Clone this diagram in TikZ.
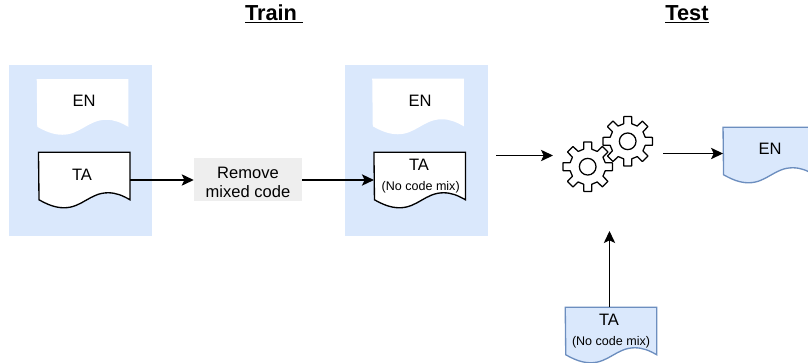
\documentclass[tikz,border=0pt]{standalone}
\usepackage{fontspec}
\setmainfont{Liberation Sans}
\usepackage{tikz}
\usetikzlibrary{arrows.meta,calc}
\definecolor{paleblue}{HTML}{DAE8FC}
\definecolor{edgeblue}{HTML}{6C8EBF}
\definecolor{palegrey}{HTML}{EEEEEE}
\newcommand{\docpath}[2]{%
\draw[#1] (#2.north west)--(#2.north east)--($(#2.south east)+(0,-8)$)
.. controls ($(#2.south east)+(-8,-12.5)$) and ($(#2.south east)+(-14,-15)$) .. ($(#2.south east)+(-22,-15)$)
.. controls ($(#2.south east)+(-40,-15)$) and ($(#2.south east)+(-48,0)$) .. ($(#2.south east)+(-66,0)$)
.. controls ($(#2.south east)+(-75,0)$) and ($(#2.south east)+(-83,-3.5)$) .. ($(#2.south east)+(-91,-8)$)
-- cycle;}
\newcommand{\gearat}[3]{%
\begin{scope}[shift={(#2,#3)}]
\draw[gearline] (77:18) \foreach \a in {90,135,...,405} {--(\a-13:18)--(\a-9:25)--(\a+9:25)--(\a+13:18)} --cycle;
\end{scope}
\node[gearhole] (#1) at (#2,#3) {};}
\begin{document}
\begin{tikzpicture}[x=0.75pt,y=-0.75pt,
panel/.style={fill=paleblue,minimum width=107.25pt,minimum height=128.25pt,inner sep=0pt},
docbox/.style={minimum width=68.25pt,minimum height=41.25pt,inner sep=0pt},
mainlabel/.style={font=\fontsize{12.4}{14.25}\selectfont,align=center,inner sep=0pt,yshift=-0.75pt},
smalllabel/.style={font=\fontsize{9.4}{11}\selectfont,inner sep=0pt,yshift=-0.75pt},
headlabel/.style={font=\fontsize{16.3}{19}\selectfont\bfseries,inner sep=0pt},
stepbox/.style={fill=palegrey,minimum width=81pt,minimum height=32.25pt,inner sep=0pt},
gearline/.style={draw=black,fill=white,line width=0.95pt,line join=round},
gearhole/.style={circle,draw=black,fill=white,line width=0.95pt,minimum size=12.5pt,inner sep=0pt},
arrowline/.style={-{Stealth[length=9pt,width=8.5pt,inset=2pt]},line width=0.9pt,black}]
\useasboundingbox (0,0) rectangle (808,362);
\node[panel] (panelone) at (80.5,150.5) {};
\node[panel] (paneltwo) at (416.5,150.5) {};
\node[docbox] (enone) at (82.5,107) {};
\node[docbox] (taone) at (84.25,180) {};
\node[docbox] (entwo) at (418,106.5) {};
\node[docbox] (tatwo) at (419.7,180) {};
\node[docbox] (enout) at (768.8,155) {};
\node[docbox] (tatest) at (611,335) {};
\docpath{fill=white,draw=none}{enone}
\docpath{fill=white,draw=black,line width=1pt}{taone}
\docpath{fill=white,draw=none}{entwo}
\docpath{fill=white,draw=black,line width=1pt}{tatwo}
\docpath{fill=paleblue,draw=edgeblue,line width=1pt}{enout}
\docpath{fill=paleblue,draw=edgeblue,line width=1pt}{tatest}
\node[mainlabel] (enonetext) at (84,100) {EN};
\node[mainlabel] (taonetext) at (82,174) {TA};
\node[mainlabel] (entwotext) at (420,100) {EN};
\node[mainlabel] (tatwotext) at (419,164) {TA};
\node[smalllabel] (tatwonote) at (420.7,186) {(No code mix)};
\node[mainlabel] (enouttext) at (770,148) {EN};
\node[mainlabel] (tatesttext) at (609,319) {TA};
\node[smalllabel] (tatestnote) at (611,341) {(No code mix)};
\node[stepbox] (remove) at (248,179.5) {};
\node[mainlabel] (removetext) at (248,181) {Remove\\mixed code};
\node[headlabel] (train) at (274,14) {\underline{Train\ }};
\node[headlabel] (test) at (687,14) {\underline{Test}};
\gearat{gearone}{587.7}{166.7}
\gearat{geartwo}{627.7}{141.3}
\coordinate (modelin) at (496,155.5);
\coordinate (modelinend) at (553,155.5);
\coordinate (modelout) at (663,153.5);
\coordinate (modelbottom) at (609.5,231);
\draw[arrowline] (taone.east)--(remove.west |- taone.east);
\draw[arrowline] (remove.east |- tatwo.west)--(tatwo.west);
\draw[arrowline] (modelin)--(modelinend);
\draw[arrowline] (modelout)--(enout.west |- modelout);
\draw[arrowline] (tatest.north west -| modelbottom)--(modelbottom);
\end{tikzpicture}
\end{document}
